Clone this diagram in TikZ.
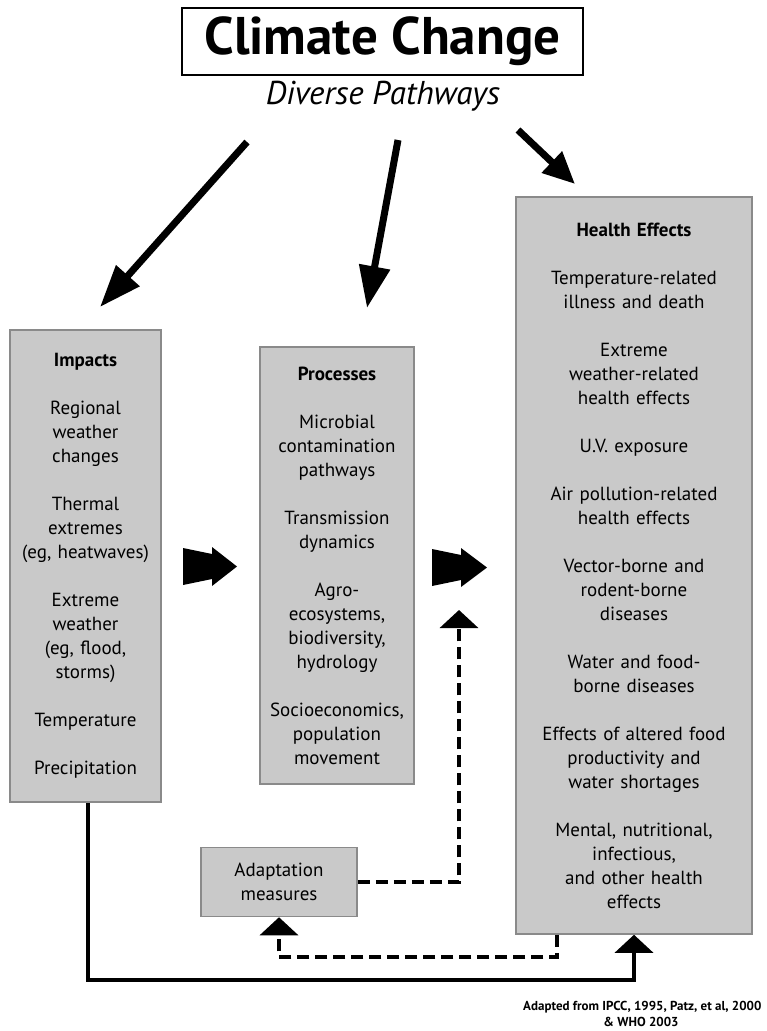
\documentclass[tikz,border=0pt]{standalone}
\usepackage{fontspec}
\setmainfont{PT Sans}
\usetikzlibrary{arrows.meta}
\definecolor{boxgray}{HTML}{C9C9C9}
\definecolor{edgegray}{HTML}{8A8A8A}
\begin{document}
\begin{tikzpicture}[x=1pt,y=-1pt,
  panel/.style={draw=edgegray,line width=1.5pt,fill=boxgray,inner sep=0pt,
    align=center,font=\fontsize{19}{24}\selectfont},
  bigarrow/.style={line width=7pt,-{Triangle[length=42pt,width=30pt]}},
  solidlink/.style={line width=3.5pt,-{Triangle[length=18pt,width=38pt]}},
  dashlink/.style={line width=3.5pt,dash pattern=on 12pt off 6pt,
    -{Triangle[length=18pt,width=38pt]}},
  chevron/.style={fill=black}]
\useasboundingbox (0,0) rectangle (767,1031);
\fill[white] (0,0) rectangle (767,1031);

% title
\node[draw,line width=2pt,fill=white,minimum width=401pt,minimum height=67pt,inner sep=0pt,
  font=\fontsize{53}{56}\selectfont\bfseries] (title) at (382.5,41.5) {Climate Change};
\node[font=\fontsize{33}{36}\selectfont\itshape] (sub) at (383,96) {Diverse Pathways};

% main panels
\node[panel,minimum width=151pt,minimum height=472pt,text width=145pt] (imp) at (85.5,566)
 {\textbf{Impacts}\\[24pt]
  Regional\\weather\\changes\\[24pt]
  Thermal\\extremes\\(eg, heatwaves)\\[24pt]
  Extreme\\weather\\(eg, flood,\\storms)\\[24pt]
  Temperature\\[24pt]
  Precipitation};

\node[panel,minimum width=154pt,minimum height=437pt,text width=150pt] (proc) at (337,565.5)
 {\textbf{Processes}\\[24pt]
  Microbial\\contamination\\pathways\\[24pt]
  Transmission\\dynamics\\[24pt]
  Agro-\\ecosystems,\\biodiversity,\\hydrology\\[24pt]
  Socioeconomics,\\population\\movement};

\node[panel,minimum width=236pt,minimum height=737pt,text width=230pt] (health) at (634,565.5)
 {\textbf{Health Effects}\\[24pt]
  Temperature-related\\illness and death\\[24pt]
  Extreme\\weather-related\\health effects\\[24pt]
  U.V. exposure\\[24pt]
  Air pollution-related\\health effects\\[24pt]
  Vector-borne and\\rodent-borne\\diseases\\[24pt]
  Water and food-\\borne diseases\\[24pt]
  Effects of altered food\\productivity and\\water shortages\\[24pt]
  Mental, nutritional,\\infectious,\\and other health\\effects\\[3pt]};

\node[panel,minimum width=156pt,minimum height=69pt,text width=150pt] (adapt) at (279,882)
 {Adaptation\\measures};

% arrows fanning out from the title
\coordinate (s1) at (247,142);
\coordinate (e1) at (100,307);
\coordinate (s2) at (398,140);
\coordinate (e2) at (367,308);
\coordinate (s3) at (518,130);
\coordinate (e3) at (575,184);
\draw[bigarrow] (s1) -- (e1);
\draw[bigarrow] (s2) -- (e2);
\draw[line width=7pt,-{Triangle[length=32pt,width=28pt]}] (s3) -- (e3);

% double chevrons between panels
\fill[chevron] (183,548) -- (212,554) -- (212,547) -- (237,566.5) -- (212,586) -- (212,579) -- (183,585) -- cycle;
\fill[chevron] (432,549) -- (461,555) -- (461,548) -- (487,567.5) -- (461,587) -- (461,580) -- (432,586) -- cycle;
\coordinate (ffin) at (459,610);

% adaptation feedback
\draw[dashlink] (adapt.east) -- (adapt.east -| ffin) -- (ffin);
\draw[dashlink] (health.south -| 557,0) -- (557,957) -| (adapt.south);

% impacts feed health effects directly
\draw[solidlink] (imp.south -| 88,0) |- (300,980) -| (health.south);

% source note
\node[anchor=west,inner sep=0pt,font=\fontsize{13}{14}\selectfont\bfseries] (src1) at (523,1007)
 {Adapted from IPCC, 1995, Patz, et al, 2000};
\node[inner sep=0pt,font=\fontsize{13}{14}\selectfont\bfseries] (src2) at (641,1022) {\& WHO 2003};
\end{tikzpicture}
\end{document}
